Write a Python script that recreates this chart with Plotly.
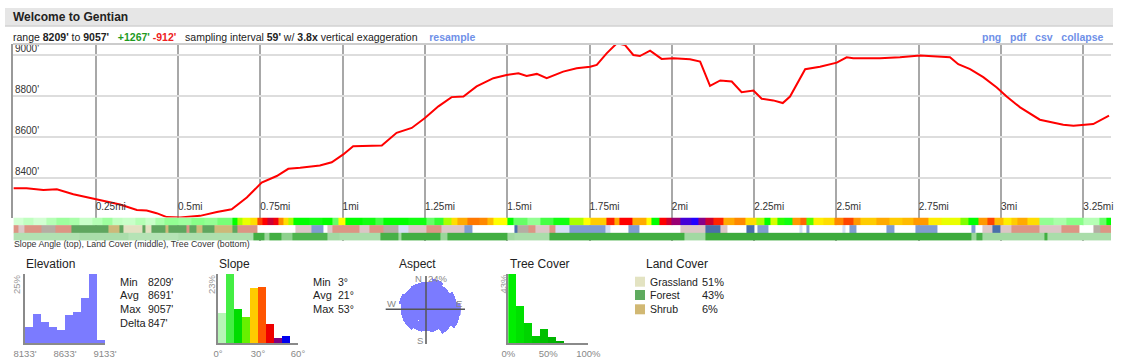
import plotly.graph_objects as go

W, H = 1128, 360
def px(x): return x / W
def py(y): return 1 - y / H

FONT = "Liberation Sans, Arial, Helvetica, sans-serif"

# ---------------- data ----------------
dist_mi = [0.000, 0.040, 0.091, 0.132, 0.182, 0.253, 0.324, 0.375, 0.405, 0.435, 0.466, 0.506, 0.567, 0.618,
           0.663, 0.709, 0.754, 0.800, 0.835, 0.871, 0.931, 0.967, 1.002, 1.032, 1.083, 1.119, 1.164, 1.210,
           1.250, 1.291, 1.331, 1.367, 1.407, 1.458, 1.498, 1.534, 1.559, 1.590, 1.620, 1.670, 1.711, 1.752,
           1.772, 1.802, 1.833, 1.858, 1.883, 1.903, 1.934, 1.969, 2.005, 2.055, 2.086, 2.116, 2.147, 2.182,
           2.212, 2.248, 2.273, 2.308, 2.337, 2.359, 2.405, 2.450, 2.501, 2.531, 2.551, 2.632, 2.693, 2.754,
           2.845, 2.870, 2.906, 2.946, 2.987, 3.017, 3.058, 3.118, 3.189, 3.220, 3.280, 3.328]
elev_ft = [8351, 8351, 8343, 8346, 8322, 8298, 8272, 8246, 8243, 8230, 8211, 8209, 8217, 8236,
           8249, 8306, 8379, 8411, 8446, 8451, 8462, 8478, 8516, 8556, 8559, 8559, 8621, 8645,
           8693, 8750, 8795, 8798, 8847, 8887, 8903, 8911, 8898, 8908, 8887, 8919, 8935, 8943,
           8952, 9008, 9057, 9048, 9000, 8995, 9021, 8981, 8984, 8979, 8968, 8850, 8876, 8871,
           8819, 8827, 8787, 8779, 8766, 8798, 8931, 8943, 8963, 8989, 8984, 8984, 8989, 8997,
           8989, 8955, 8931, 8892, 8842, 8798, 8745, 8685, 8661, 8656, 8664, 8705]

x_ticks = [0.25, 0.5, 0.75, 1.0, 1.25, 1.5, 1.75, 2.0, 2.25, 2.5, 2.75, 3.0, 3.25]
x_ticktext = ["0.25mi", "0.5mi", "0.75mi", "1mi", "1.25mi", "1.5mi", "1.75mi", "2mi", "2.25mi",
              "2.5mi", "2.75mi", "3mi", "3.25mi"]
y_ticks = [8400, 8600, 8800, 9000]
y_ticktext = ["8400'", "8600'", "8800'", "9000'"]
dist_end = 3.334

# slope strip: run starts (mi) and slope angle (deg)
slope_start = [0.00, 0.03, 0.06, 0.10, 0.13, 0.17, 0.20, 0.24, 0.27, 0.30, 0.33, 0.37, 0.40, 0.43, 0.46, 0.50,
               0.54, 0.58, 0.62, 0.665, 0.68, 0.697, 0.72, 0.74, 0.755, 0.772, 0.79, 0.804, 0.82, 0.835, 0.85,
               0.90, 0.94, 0.97, 0.986, 1.007, 1.06, 1.10, 1.125, 1.20, 1.254, 1.28, 1.307, 1.33, 1.35, 1.38,
               1.414, 1.44, 1.457, 1.50, 1.52, 1.56, 1.60, 1.64, 1.689, 1.732, 1.754, 1.80, 1.825, 1.841, 1.879,
               1.923, 1.939, 1.961, 1.983, 2.00, 2.027, 2.06, 2.081, 2.103, 2.125, 2.157, 2.19, 2.223, 2.256,
               2.28, 2.299, 2.32, 2.343, 2.365, 2.39, 2.408, 2.43, 2.46, 2.495, 2.52, 2.55, 2.572, 2.62, 2.66,
               2.70, 2.735, 2.779, 2.82, 2.877, 2.90, 2.932, 2.96, 2.98, 3.008, 3.03, 3.051, 3.08, 3.117, 3.16,
               3.20, 3.25, 3.30, 3.32]
slope_deg = [3, 5, 3, 6, 8, 7, 4, 6, 8, 5, 4, 6, 4, 7, 9, 8,
             10, 9, 11, 18, 22, 25, 28, 36, 38, 42, 39, 33, 28, 22, 18,
             17, 18, 12, 26, 18, 17, 14, 18, 17, 12, 15, 22, 28, 31, 34,
             33, 30, 26, 18, 12, 9, 14, 17, 22, 26, 29, 37, 31, 38, 31,
             26, 18, 38, 42, 45, 50, 52, 46, 42, 37, 31, 33, 28, 22,
             18, 24, 19, 17, 32, 35, 20, 27, 28, 33, 36, 32, 29, 31, 29,
             30, 32, 27, 25, 21, 18, 32, 36, 30, 27, 29, 31, 28, 9, 7,
             10, 6, 12, 18]

# land cover strip: run starts (mi) and class code
land_start = [0.000, 0.016, 0.033, 0.086, 0.129, 0.177, 0.290, 0.322, 0.333, 0.391, 0.402, 0.418, 0.461, 0.472,
              0.525, 0.536, 0.557, 0.573, 0.611, 0.665, 0.681, 0.740, 0.857, 0.906, 0.943, 0.954, 0.970, 1.050,
              1.080, 1.125, 1.168, 1.200, 1.254, 1.300, 1.371, 1.393, 1.521, 1.532, 1.564, 1.586, 1.628, 1.645,
              1.689, 1.798, 1.814, 1.869, 1.901, 2.027, 2.103, 2.147, 2.168, 2.228, 2.250, 2.261, 2.294, 2.386,
              2.397, 2.408, 2.419, 2.517, 2.528, 2.539, 2.561, 2.653, 2.675, 2.741, 2.806, 2.910, 2.921, 2.942,
              2.975, 2.997, 3.030, 3.117, 3.182, 3.237, 3.280, 3.302]
land_code = [1, 2, 1, 3, 1, 4, 5, 4, 6, 4, 6, 4, 5, 4,
             1, 4, 5, 4, 5, 4, 1, 0, 2, 7, 0, 2, 1, 2,
             1, 3, 9, 2, 1, 2, 7, 0, 8, 3, 1, 2, 1, 9,
             7, 9, 0, 7, 0, 2, 8, 2, 0, 8, 0, 7, 0, 9,
             0, 7, 0, 9, 0, 7, 0, 7, 0, 7, 0, 7, 0, 2,
             8, 2, 1, 2, 1, 0, 3, 1]
land_colors = ["#ffffff", "#dc9584", "#dcc6c6", "#b5ada3", "#5fa65f",
               "#cdb97a", "#e3e0c2", "#809cd0", "#4a6faa", "#d5def5"]

# tree cover strip: run starts (mi) and canopy percent
tree_start = [0.000, 0.20, 0.35, 0.50, 0.729, 0.761, 0.777, 0.814, 0.847, 0.954, 0.991, 1.114, 1.168, 1.179,
              1.297, 1.318, 1.500, 1.521, 1.628, 2.037, 2.103, 2.910, 2.926, 2.942, 3.133, 3.141]
tree_pct = [6, 8, 5, 7, 40, 12, 40, 15, 35, 10, 8, 38, 10, 40,
            12, 40, 10, 8, 40, 10, 42, 12, 38, 10, 40, 8]

# summary panels
elev_bins = [8183, 8283, 8383, 8483, 8583, 8683, 8783, 8883, 8983, 9083]
elev_pct = [6.0, 10.5, 7.6, 5.8, 4.8, 10.1, 11.2, 16.2, 25.0, 1.2]
elev_stat_names = ["Min", "Avg", "Max", "Delta"]
elev_stat_vals = ["8209'", "8691'", "9057'", "847'"]

slope_bins = [3, 9, 15, 21, 27, 33, 39, 45, 51]
slope_pct = [10.2, 23.0, 11.4, 8.6, 18.2, 18.6, 6.3, 1.9, 2.5]
slope_bar_colors = ["#b6f5b6", "#44ee44", "#00dd00", "#66f000", "#ffcc00", "#ff5500", "#ee0000", "#800080", "#0000ee"]
slope_stat_names = ["Min", "Avg", "Max"]
slope_stat_vals = ["3°", "21°", "53°"]

aspect_dirs = [0, 22.5, 45, 67.5, 90, 112.5, 135, 157.5, 180, 202.5, 225, 247.5, 270, 292.5, 315, 337.5]
aspect_pct = [18.7, 21.6, 19.7, 21.6, 24.0, 23.5, 20.4, 16.3, 14.9, 15.6, 17.3, 17.3, 17.3, 19.2, 18.0, 18.7]

tree_bins = [5, 15, 25, 35, 45, 55, 65]
tree_hist_pct = [43.0, 23.4, 12.8, 4.8, 8.9, 3.7, 1.4]
tree_bar_colors = ["#00ee00", "#00e000", "#00d400", "#00c800", "#00c000", "#00b400", "#00aa00"]

land_names = ["Grassland", "Forest", "Shrub"]
land_share = [51, 43, 6]
land_swatch = ["#e3e3c2", "#5fab5f", "#d1b873"]

range_min, range_max = 8209, 9057
gain, loss = 1267, 912
interval, exag = 59, 3.8

# ---------------- figure ----------------
fig = go.Figure()

fig.add_trace(go.Scatter(x=dist_mi, y=elev_ft, mode="lines", line=dict(color="#ff0000", width=2),
                         xaxis="x", yaxis="y", hoverinfo="skip", showlegend=False))

def strip(starts, vals, row, colorscale, zmin, zmax):
    edges = list(starts) + [dist_end]
    fig.add_trace(go.Heatmap(x=edges, y=[row, row + 1], z=[vals], colorscale=colorscale,
                             zmin=zmin, zmax=zmax, showscale=False, xaxis="x", yaxis="y2",
                             hoverinfo="skip"))

slope_scale = [[0, "#ecffec"], [5/55, "#c0ffc0"], [10/55, "#88ff88"], [15/55, "#33ff33"], [18/55, "#00ff00"],
               [22/55, "#aaff00"], [26/55, "#ffff00"], [29/55, "#ffcc00"], [32/55, "#ff9900"],
               [35/55, "#ff6600"], [38/55, "#ff0000"], [42/55, "#cc0033"], [46/55, "#880088"],
               [52/55, "#2200ff"], [1, "#0000ff"]]
land_scale = []
n = len(land_colors)
for i, c in enumerate(land_colors):
    land_scale.append([i / n, c])
    land_scale.append([(i + 1) / n, c])
tree_scale = [[0, "#c8edc8"], [10/50, "#a2d9a2"], [25/50, "#66c266"], [1, "#2aa02a"]]

strip(slope_start, slope_deg, 2, slope_scale, 0, 55)
strip(land_start, land_code, 1, land_scale, -0.5, n - 0.5)
strip(tree_start, tree_pct, 0, tree_scale, 0, 50)

# histograms
fig.add_trace(go.Bar(x=elev_bins, y=elev_pct, width=100, marker=dict(color="#7b7bff", line=dict(width=0)),
                     xaxis="x3", yaxis="y3", hoverinfo="skip", showlegend=False))
fig.add_trace(go.Bar(x=slope_bins, y=slope_pct, width=6, marker=dict(color=slope_bar_colors, line=dict(width=0)),
                     xaxis="x4", yaxis="y4", hoverinfo="skip", showlegend=False))
fig.add_trace(go.Bar(x=tree_bins, y=tree_hist_pct, width=10, marker=dict(color=tree_bar_colors, line=dict(width=0)),
                     xaxis="x5", yaxis="y5", hoverinfo="skip", showlegend=False))
fig.add_trace(go.Barpolar(r=aspect_pct, theta=aspect_dirs, width=[22.5] * len(aspect_dirs),
                          marker=dict(color="#7b7bff", line=dict(width=0)), hoverinfo="skip",
                          showlegend=False, subplot="polar"))

hist_axis = dict(showline=True, linecolor="#8a8a8a", linewidth=2, showgrid=False, zeroline=False,
                 ticks="", tickfont=dict(family=FONT, size=9.5, color="#888888"), fixedrange=True,
                 automargin=False)

fig.update_layout(
    width=W, height=H, margin=dict(l=0, r=0, t=0, b=0, pad=0, autoexpand=False),
    paper_bgcolor="white", plot_bgcolor="white", bargap=0, showlegend=False,
    font=dict(family=FONT, size=11, color="#222222"),
    xaxis=dict(domain=[px(13.4), px(1111)], range=[0, dist_end], tickvals=x_ticks, ticktext=x_ticktext,
               ticklabelposition="inside right", ticklabeloverflow="allow", ticks="", showgrid=True,
               gridcolor="#a8a8a8", gridwidth=1.5, zeroline=False, showline=False, anchor="y",
               tickfont=dict(family=FONT, size=10, color="#333333"), fixedrange=True, automargin=False),
    yaxis=dict(domain=[py(217.5), py(43.5)], range=[8209, 9056], tickvals=y_ticks, ticktext=y_ticktext,
               ticklabelposition="inside top", ticklabeloverflow="allow", ticks="", showgrid=True,
               gridcolor="#dddddd", gridwidth=1.5,
               zeroline=False, showline=True, linecolor="#999999", linewidth=1.5, anchor="x",
               tickfont=dict(family=FONT, size=10, color="#333333"), fixedrange=True, automargin=False),
    yaxis2=dict(domain=[py(240.5), py(217.5)], range=[0, 3], visible=False, anchor="x", fixedrange=True),
    xaxis3=dict(domain=[px(25), px(105)], range=[8133, 9133], tickvals=[8133, 8633, 9133],
                ticktext=["8133'", "8633'", "9133'"], anchor="y3", **hist_axis),
    yaxis3=dict(domain=[py(343.3), py(274)], range=[0, 25], showticklabels=False, anchor="x3", **hist_axis),
    xaxis4=dict(domain=[px(218), px(298)], range=[0, 60], tickvals=[0, 30, 60],
                ticktext=["0°", "30°", "60°"], anchor="y4", **hist_axis),
    yaxis4=dict(domain=[py(343.3), py(274)], range=[0, 23], showticklabels=False, anchor="x4", **hist_axis),
    xaxis5=dict(domain=[px(508.3), px(588.3)], range=[0, 100], tickvals=[0, 50, 100],
                ticktext=["0%", "50%", "100%"], anchor="y5", **hist_axis),
    yaxis5=dict(domain=[py(343.3), py(274)], range=[0, 43], showticklabels=False, anchor="x5", **hist_axis),
    polar=dict(domain=dict(x=[px(391), px(461)], y=[py(344.3), py(274.3)]), bgcolor="rgba(0,0,0,0)",
               radialaxis=dict(range=[0, 24], visible=False),
               angularaxis=dict(rotation=90, direction="clockwise", visible=False), hole=0),
)

shapes = [
    dict(type="rect", xref="paper", yref="paper", x0=px(5), x1=px(1113), y0=py(26), y1=py(8),
         fillcolor="#e6e6e6", line=dict(width=0), layer="below"),
    dict(type="line", xref="paper", yref="paper", x0=px(5), x1=px(1113), y0=py(26), y1=py(26),
         line=dict(color="#d2d2d2", width=1.5)),
    dict(type="line", xref="paper", yref="paper", x0=px(13), x1=px(1113), y0=py(44), y1=py(44),
         line=dict(color="#cccccc", width=2)),
    # aspect rose crosshair
    dict(type="line", xref="paper", yref="paper", x0=px(385.7), x1=px(465), y0=py(309.3), y1=py(309.3),
         line=dict(color="#555555", width=1.5)),
    dict(type="line", xref="paper", yref="paper", x0=px(426), x1=px(426), y0=py(276), y1=py(344),
         line=dict(color="#555555", width=1.5)),
]

ann = []
def text(x, y, s, size=11, color="#222222", anchor="left", angle=0):
    ann.append(dict(x=px(x), y=py(y), xref="paper", yref="paper", text=s, showarrow=False,
                    xanchor=anchor, yanchor="middle", textangle=angle,
                    font=dict(family=FONT, size=size, color=color)))

NB = "\u00a0"
text(11, 17, "<b>Welcome to Gentian</b>", size=12, color="#222222")
line2 = (f"range <b>{range_min}'</b> to <b>{range_max}'</b>{NB*3}"
         f"<span style='color:#1e9a1e'><b>+{gain}'</b></span>{NB}"
         f"<span style='color:#ee2020'><b>-{loss}'</b></span>{NB*3}"
         f"sampling interval <b>{interval}'</b> w/ <b>{exag}x</b> vertical exaggeration{NB*4}"
         f"<span style='color:#6f90e8'><b>resample</b></span>")
text(11, 37.5, line2, size=10.5, color="#222222")
text(1106, 37.5, f"<b>png{NB*3}pdf{NB*3}csv{NB*3}collapse</b>", size=10.5, color="#6f90e8", anchor="right")
text(12, 243.5, "Slope Angle (top), Land Cover (middle), Tree Cover (bottom)", size=8.8, color="#333333")

# panel titles
text(24, 264, "Elevation", size=12)
text(217, 264, "Slope", size=12)
text(417, 264, "Aspect", size=12, anchor="center")
text(540, 264, "Tree Cover", size=12, anchor="center")
text(644, 264, "Land Cover", size=12)

# rotated max labels
text(16, 284, "25%", size=9.5, color="#999999", anchor="center", angle=-90)
text(211, 284, "23%", size=9.5, color="#999999", anchor="center", angle=-90)
text(502.5, 284, "43%", size=9.5, color="#999999", anchor="center", angle=-90)

# stats
rows = [281.7, 295, 309.3, 322.7]
for i, (nm, v) in enumerate(zip(elev_stat_names, elev_stat_vals)):
    text(118, rows[i], nm, size=11)
    text(146, rows[i], v, size=10.5)
for i, (nm, v) in enumerate(zip(slope_stat_names, slope_stat_vals)):
    text(311, rows[i], nm, size=11)
    text(336, rows[i], v, size=10.5)

# aspect labels
text(418, 278, "N", size=9.5, color="#888888", anchor="center")
text(437.5, 278, "24%", size=9.5, color="#888888", anchor="center")
text(391.5, 303, "W", size=9.5, color="#888888", anchor="center")
text(459, 303, "E", size=9.5, color="#888888", anchor="center")
text(419.5, 340, "S", size=9.5, color="#888888", anchor="center")

# land cover legend
for i, (nm, pc, c) in enumerate(zip(land_names, land_share, land_swatch)):
    y = rows[i]
    shapes.append(dict(type="rect", xref="paper", yref="paper", x0=px(635), x1=px(645),
                       y0=py(y + 5), y1=py(y - 5), fillcolor=c, line=dict(width=0)))
    text(648, y, nm, size=10.5)
    text(700, y, f"{pc}%", size=11)

fig.update_layout(shapes=shapes, annotations=ann)
fig.write_html("out.html")
